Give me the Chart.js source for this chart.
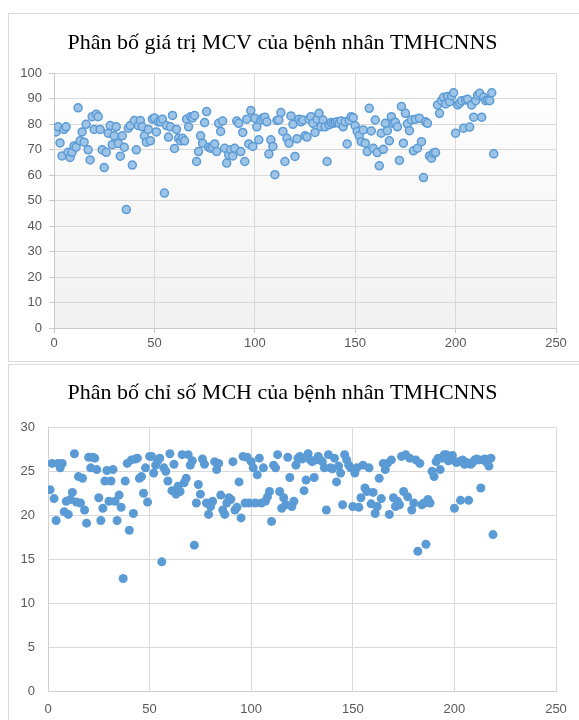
<!DOCTYPE html>
<html><head><meta charset="utf-8">
<script src="https://cdn.jsdelivr.net/npm/chart.js@4.4.1/dist/chart.umd.min.js"></script>
<style>
html,body{margin:0;padding:0;background:#fff;width:579px;height:720px;overflow:hidden;position:relative;}
.box{position:absolute;border:1px solid #d9d9d9;box-sizing:border-box;}
#b1{left:8px;top:13px;width:600px;height:349px;}
#b2{left:8px;top:364px;width:600px;height:400px;}
canvas{position:absolute;}
#c1{left:9px;top:14px;}
#c2{left:9px;top:365px;}
</style></head><body>
<div class="box" id="b1"></div><div class="box" id="b2"></div>
<canvas id="c1" width="570" height="346" style="width:570px;height:346px"></canvas>
<canvas id="c2" width="570" height="355" style="width:570px;height:355px"></canvas>
<script>
const mcvTitle = 'Phân bố giá trị MCV của bệnh nhân TMHCNNS';
const mchTitle = 'Phân bố chỉ số MCH của bệnh nhân TMHCNNS';
const xTicks = [0, 50, 100, 150, 200, 250];
const mcvTicks = [0, 10, 20, 30, 40, 50, 60, 70, 80, 90, 100];
const mchTicks = [0, 5, 10, 15, 20, 25, 30];

const mcvValues = [
77,79,72.7,67.6,78,79,69,67,69,71.5,71,86.5,73.5,77,73,80,70,66,83,78,
84,83,78,70,63,69,76.5,79.5,72,75.5,79,72.5,67.5,75.5,71,46.5,78.5,79.5,64,81.5,
70,79.5,81.5,79,75.5,73,78,73.5,82,82.5,77,81,81,82,53,79.5,75,79,83.5,70.5,
78,74.5,73.5,74.5,73.5,82,79,83,82.5,83.5,
65.4,69.3,75.5,72.6,80.7,85,71,70.6,71,72.3,69.3,80.4,77.2,81.3,70.6,64.8,68,70,67.6,70.6,
81.3,80.4,69.3,76.8,65.4,82,72.3,85.4,71.3,82.4,79,73.9,81.7,82.4,82.8,81,68.3,73.9,71.3,60.2,
81.5,81.7,84.6,77.2,65.4,74.5,72.6,83.3,80,67.4,74.3,82,81,81.7,75.5,75,82,83,80.4,76.8,
82,84.3,79,81.7,79,65.4,79.8,80.7,80.4,80.7,81,80.4,81.3,79,81,72.3,81.5,83,82.6,79.4,
77.2,75.5,73.2,77.8,72.6,69.3,86.3,77.4,70.6,81.7,68.9,63.7,
76.5,70.2,80.4,77.5,73.5,83,80.4,80.8,79,65.8,87,72.6,84.3,80.2,77.5,81.7,69.6,82,70.6,82.4,
73.2,59.1,81,80.4,67.6,66.7,68.7,68.9,87.6,84.3,89.3,90.6,88,90.9,88.9,91.1,92.4,76.5,87.6,88.3,
89.3,78.5,89.6,89.8,78.9,87.6,82.8,89.3,91.5,92.2,82.8,90.6,89.3,89.6,89.3,92.4,68.4
];

const mchValues = [
22.9,25.9,21.9,19.4,25.9,25.4,25.9,20.4,21.6,20.1,
21.8,22.6,27,21.5,24.4,21.4,24.2,20.6,19.1,26.6,
25.4,26.6,26.5,25.2,22,19.4,20.8,23.9,25.1,21.6,
23.9,25.2,21.6,19.4,22.3,20.9,12.8,23.9,25.9,18.3,
26.3,20.2,26.4,26.5,24.2,24.4,22.5,25.4,21.5,26.7,
26.7,24.8,25.7,26.2,26.5,14.7,25.4,25,23.9,27,
22.8,25.8,22.4,23.3,22.7,26.9,23.7,24.2,26.9,25.7,
26.2,16.6,21.4,23.5,22.4,26.4,25.8,21.4,20.1,21,
21.6,26.1,25.2,25.9,22.3,20.6,20.1,21.4,22,21.8,
26.1,20.6,20.9,23.8,19.7,26.7,21.4,26.6,21.4,26.1,
25.4,21.4,24.6,26.5,21.4,
25.4,21.6,22.1,22.7,19.3,25.7,25.4,26.9,22.7,20.8,
22,21.2,26.6,24.3,21,21.6,25.7,26.5,26.7,26.4,
22.8,24,27,26.3,26.1,24.3,26.3,26.7,26.3,26.1,
25.4,20.6,26.9,25.4,25.3,26.5,23.8,25.6,24.8,21.2,
26.9,26.3,25.7,25.4,21,24.8,25.4,20.9,22,25.7,
23.1,22.7,25.4,21.3,22.6,20.2,21,24.2,21.9,25.9,
25.2,25.9,20.1,26.3,22,21,21.6,21.2,26.7,22.7,
26.9,22.1,26.5,20.6,21.4,26.3,15.9,25.9,21.2,21.4,
16.7,21.8,21.4,25,24.4,26.1,26.5,25.2,26.5,26.9,
26.9,26.2,26.3,26.8,20.8,
26,26.1,21.7,26.3,25.8,26,21.7,25.8,26,26.3,26.4,26.3,23.1,26.3,26.4,26,25.6,26.5,17.8
];

const plotBg = {
  id: 'plotBg',
  beforeDraw(chart, args, opts) {
    if (!opts || !opts.gradient) return;
    const {ctx, chartArea: a} = chart;
    const g = ctx.createLinearGradient(0, a.top, 0, a.bottom);
    g.addColorStop(0, '#ffffff');
    g.addColorStop(1, '#f1f1f1');
    ctx.save();
    ctx.fillStyle = g;
    ctx.fillRect(a.left, a.top, a.right - a.left, a.bottom - a.top);
    ctx.restore();
  }
};

const tickFont = {family: "'Liberation Sans', Arial, sans-serif", size: 13};
const titleFont = {family: "'Liberation Serif', 'Times New Roman', serif", size: 22, weight: 'normal'};

function makeChart(id, title, values, yTicks, cfg) {
  const pts = values.map((v, i) => ({x: i + 1, y: v}));
  return new Chart(document.getElementById(id), {
    type: 'scatter',
    data: {datasets: [{
      data: pts,
      backgroundColor: cfg.fill,
      borderColor: cfg.border,
      borderWidth: cfg.borderWidth,
      pointRadius: cfg.radius,
      pointHoverRadius: cfg.radius
    }]},
    plugins: [plotBg],
    options: {
      responsive: false,
      animation: false,
      devicePixelRatio: 1,
      layout: {padding: {left: 0, right: 23, top: 0, bottom: 0}},
      plugins: {
        legend: {display: false},
        tooltip: {enabled: false},
        plotBg: {gradient: cfg.gradient},
        title: {display: true, text: title, color: '#000', font: titleFont,
                padding: cfg.titlePad}
      },
      scales: {
        x: {
          type: 'linear', min: xTicks[0], max: xTicks[xTicks.length - 1],
          afterBuildTicks: s => { s.ticks = xTicks.map(v => ({value: v})); },
          afterFit: s => { s.height = cfg.xHeight; },
          grid: {color: '#d9d9d9', lineWidth: 1, drawTicks: cfg.drawTicks, tickLength: 5, tickColor: '#c8c8c8'},
          border: {display: true, color: cfg.axisColor, width: 1},
          ticks: {color: '#595959', font: tickFont, padding: cfg.xPad, maxRotation: 0, autoSkip: false}
        },
        y: {
          type: 'linear', min: yTicks[0], max: yTicks[yTicks.length - 1],
          afterBuildTicks: s => { s.ticks = yTicks.map(v => ({value: v})); },
          afterFit: s => { s.width = cfg.yWidth; },
          grid: {color: '#d9d9d9', lineWidth: 1, drawTicks: cfg.drawTicks, tickLength: 5, tickColor: '#c8c8c8'},
          border: {display: true, color: cfg.axisColor, width: 1},
          ticks: {color: '#595959', font: tickFont, padding: cfg.yPad, autoSkip: false}
        }
      }
    }
  });
}

makeChart('c1', mcvTitle, mcvValues, mcvTicks, {
  fill: '#9dc3e6', border: '#5b9bd5', borderWidth: 1.5, radius: 4,
  gradient: true, titlePad: {top: 16, bottom: 17}, xHeight: 32, yWidth: 45,
  drawTicks: true, axisColor: '#c8c8c8', xPad: 3, yPad: 7
});
makeChart('c2', mchTitle, mchValues, mchTicks, {
  fill: '#5b9bd5', border: '#5b9bd5', borderWidth: 0, radius: 4.5,
  gradient: false, titlePad: {top: 15, bottom: 21}, xHeight: 29, yWidth: 39,
  drawTicks: false, axisColor: '#d0d0d0', xPad: 11, yPad: 13
});
</script>
</body></html>
